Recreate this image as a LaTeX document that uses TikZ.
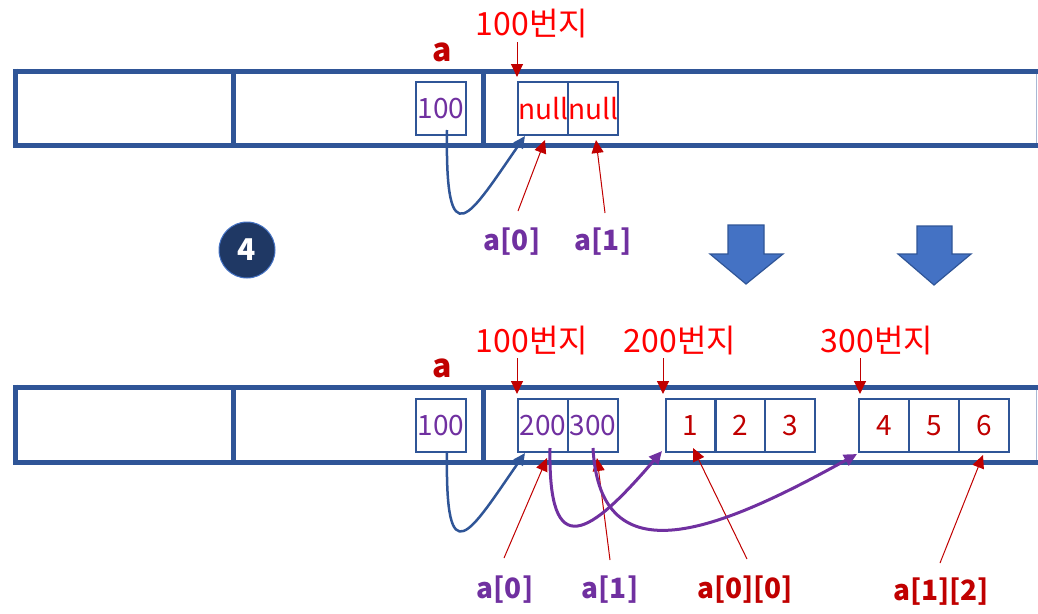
\documentclass[tikz,border=0pt]{standalone}
\usepackage{fontspec}
\setmainfont{Noto Sans CJK KR}
\usetikzlibrary{arrows.meta}
\definecolor{frame}{HTML}{2F5597}
\definecolor{edge}{HTML}{A9B8D4}
\definecolor{fillblue}{HTML}{4472C4}
\definecolor{navy}{HTML}{1F3864}
\definecolor{brightred}{HTML}{FF0000}
\definecolor{darkred}{HTML}{C00000}
\definecolor{purp}{HTML}{7030A0}
\tikzset{
  mem/.style={draw=frame, line width=5pt},
  cell/.style={draw=frame, line width=2pt, minimum width=50pt, minimum height=53pt, inner sep=0pt, font=\fontsize{28}{28}\selectfont},
  addr/.style={text=brightred, font=\fontsize{32}{32}\selectfont, inner sep=0pt},
  tag/.style={text=purp, font=\bfseries\fontsize{28}{28}\selectfont, inner sep=0pt},
  rtag/.style={text=darkred, font=\bfseries\fontsize{28}{28}\selectfont, inner sep=0pt},
  avar/.style={text=darkred, font=\bfseries\fontsize{32}{32}\selectfont, inner sep=0pt},
  pin/.style={draw=darkred, line width=1pt, -{Triangle[length=13pt,width=12pt]}},
  bluecurve/.style={draw=frame, line width=2.5pt, -{Triangle[length=12pt,width=11pt]}},
  purpcurve/.style={draw=purp, line width=3pt, -{Triangle[length=13pt,width=12pt]}},
  blockarrow/.style={fill=fillblue, draw=frame, line width=1.2pt},
}
\begin{document}
\begin{tikzpicture}[x=1pt,y=-1pt]
\useasboundingbox (0,0) rectangle (1038,613);

% ---------- top memory strip ----------
\draw[mem] (15,71) -- (1045,71);
\draw[mem] (15,145) -- (1045,145);
\draw[mem] (15,68.5) -- (15,147.5);
\draw[edge, line width=1pt] (1036.5,73.5) -- (1036.5,142.5);
\draw[mem] (233,71) -- (233,145);
\draw[mem] (483,71) -- (483,145);

\node[cell, text=purp] (ta) at (441,108.5) {100};
\node[cell, text=brightred] (tn0) at (543,108.5) {null};
\node[cell, text=brightred] (tn1) at (593,108.5) {null};

\node[avar] (talabel) at (442,52) {a};
\node[addr] (t100) at (532,24) {100번지};
\coordinate (t100p) at (517,77);
\draw[pin] (517,42) -- (t100p);

\node[tag] (ta0) at (512,242) {a[0]};
\node[tag] (ta1) at (603,242) {a[1]};
\coordinate (ta0s) at (518,211);
\coordinate (ta0e) at (545,140);
\coordinate (ta1s) at (605,213);
\coordinate (ta1e) at (596,140);
\draw[pin] (ta0s) -- (ta0e);
\draw[pin] (ta1s) -- (ta1e);

\coordinate (tbs) at (447,130);
\coordinate (tbe) at (525,136);
\draw[bluecurve] (tbs) .. controls (445,262) and (470,215) .. (tbe);

% circle 4
\node[circle, fill=navy, draw=fillblue, line width=1pt, minimum size=56pt, inner sep=0pt,
      text=white, font=\bfseries\fontsize{30}{30}\selectfont] (step4) at (247,250) {4};

% block arrows
\draw[blockarrow] (728,225) -- (764,225) -- (764,254) -- (783,254) -- (746,284) -- (710,254) -- (728,254) -- cycle;
\draw[blockarrow] (917,226) -- (952,226) -- (952,254) -- (971,254) -- (934,285) -- (898,254) -- (917,254) -- cycle;

% ---------- bottom memory strip ----------
\draw[mem] (15,387) -- (1045,387);
\draw[mem] (15,462) -- (1045,462);
\draw[mem] (15,384.5) -- (15,464.5);
\draw[edge, line width=1pt] (1036.5,389.5) -- (1036.5,459.5);
\draw[mem] (233,387) -- (233,462);
\draw[mem] (483,387) -- (483,462);

\node[cell, text=purp] (ba) at (441,425.5) {100};
\node[cell, text=purp] (b0) at (543,425.5) {200};
\node[cell, text=purp] (b1) at (593,425.5) {300};
\node[cell, text=darkred] (c1) at (690.5,425.5) {1};
\node[cell, text=darkred] (c2) at (740,425.5) {2};
\node[cell, text=darkred] (c3) at (790,425.5) {3};
\node[cell, text=darkred] (c4) at (884,425.5) {4};
\node[cell, text=darkred] (c5) at (934,425.5) {5};
\node[cell, text=darkred] (c6) at (984,425.5) {6};

\node[avar] (balabel) at (442,368) {a};
\node[addr] (b100) at (532,341) {100번지};
\node[addr] (b200) at (680,341) {200번지};
\node[addr] (b300) at (877,341) {300번지};
\coordinate (b100p) at (517,394);
\coordinate (b200p) at (663,394);
\coordinate (b300p) at (860,394);
\draw[pin] (517,358) -- (b100p);
\draw[pin] (663,358) -- (b200p);
\draw[pin] (860,358) -- (b300p);

\node[tag] (ba0) at (505,590) {a[0]};
\node[tag] (ba1) at (610,590) {a[1]};
\node[rtag] (ba00) at (745,590) {a[0][0]};
\node[rtag] (ba12) at (941,592) {a[1][2]};
\coordinate (ba0s) at (504,558);
\coordinate (ba0e) at (547,458);
\coordinate (ba1s) at (610,560);
\coordinate (ba1e) at (597,458);
\coordinate (ba00s) at (747,559);
\coordinate (ba00e) at (693,448);
\coordinate (ba12s) at (940,563);
\coordinate (ba12e) at (983,455);
\draw[pin] (ba0s) -- (ba0e);
\draw[pin] (ba1s) -- (ba1e);
\draw[pin] (ba00s) -- (ba00e);
\draw[pin] (ba12s) -- (ba12e);

\coordinate (bbs) at (447,452);
\coordinate (bbe) at (525,453);
\draw[bluecurve] (bbs) .. controls (445,579) and (470,532) .. (bbe);

\coordinate (p1s) at (550,448);
\coordinate (p1e) at (662,451);
\draw[purpcurve] (p1s) .. controls (548,565) and (590,535) .. (p1e);

\coordinate (p2s) at (593,448);
\coordinate (p2e) at (857,454);
\draw[purpcurve] (p2s) .. controls (600,580) and (720,530) .. (p2e);
\end{tikzpicture}
\end{document}
